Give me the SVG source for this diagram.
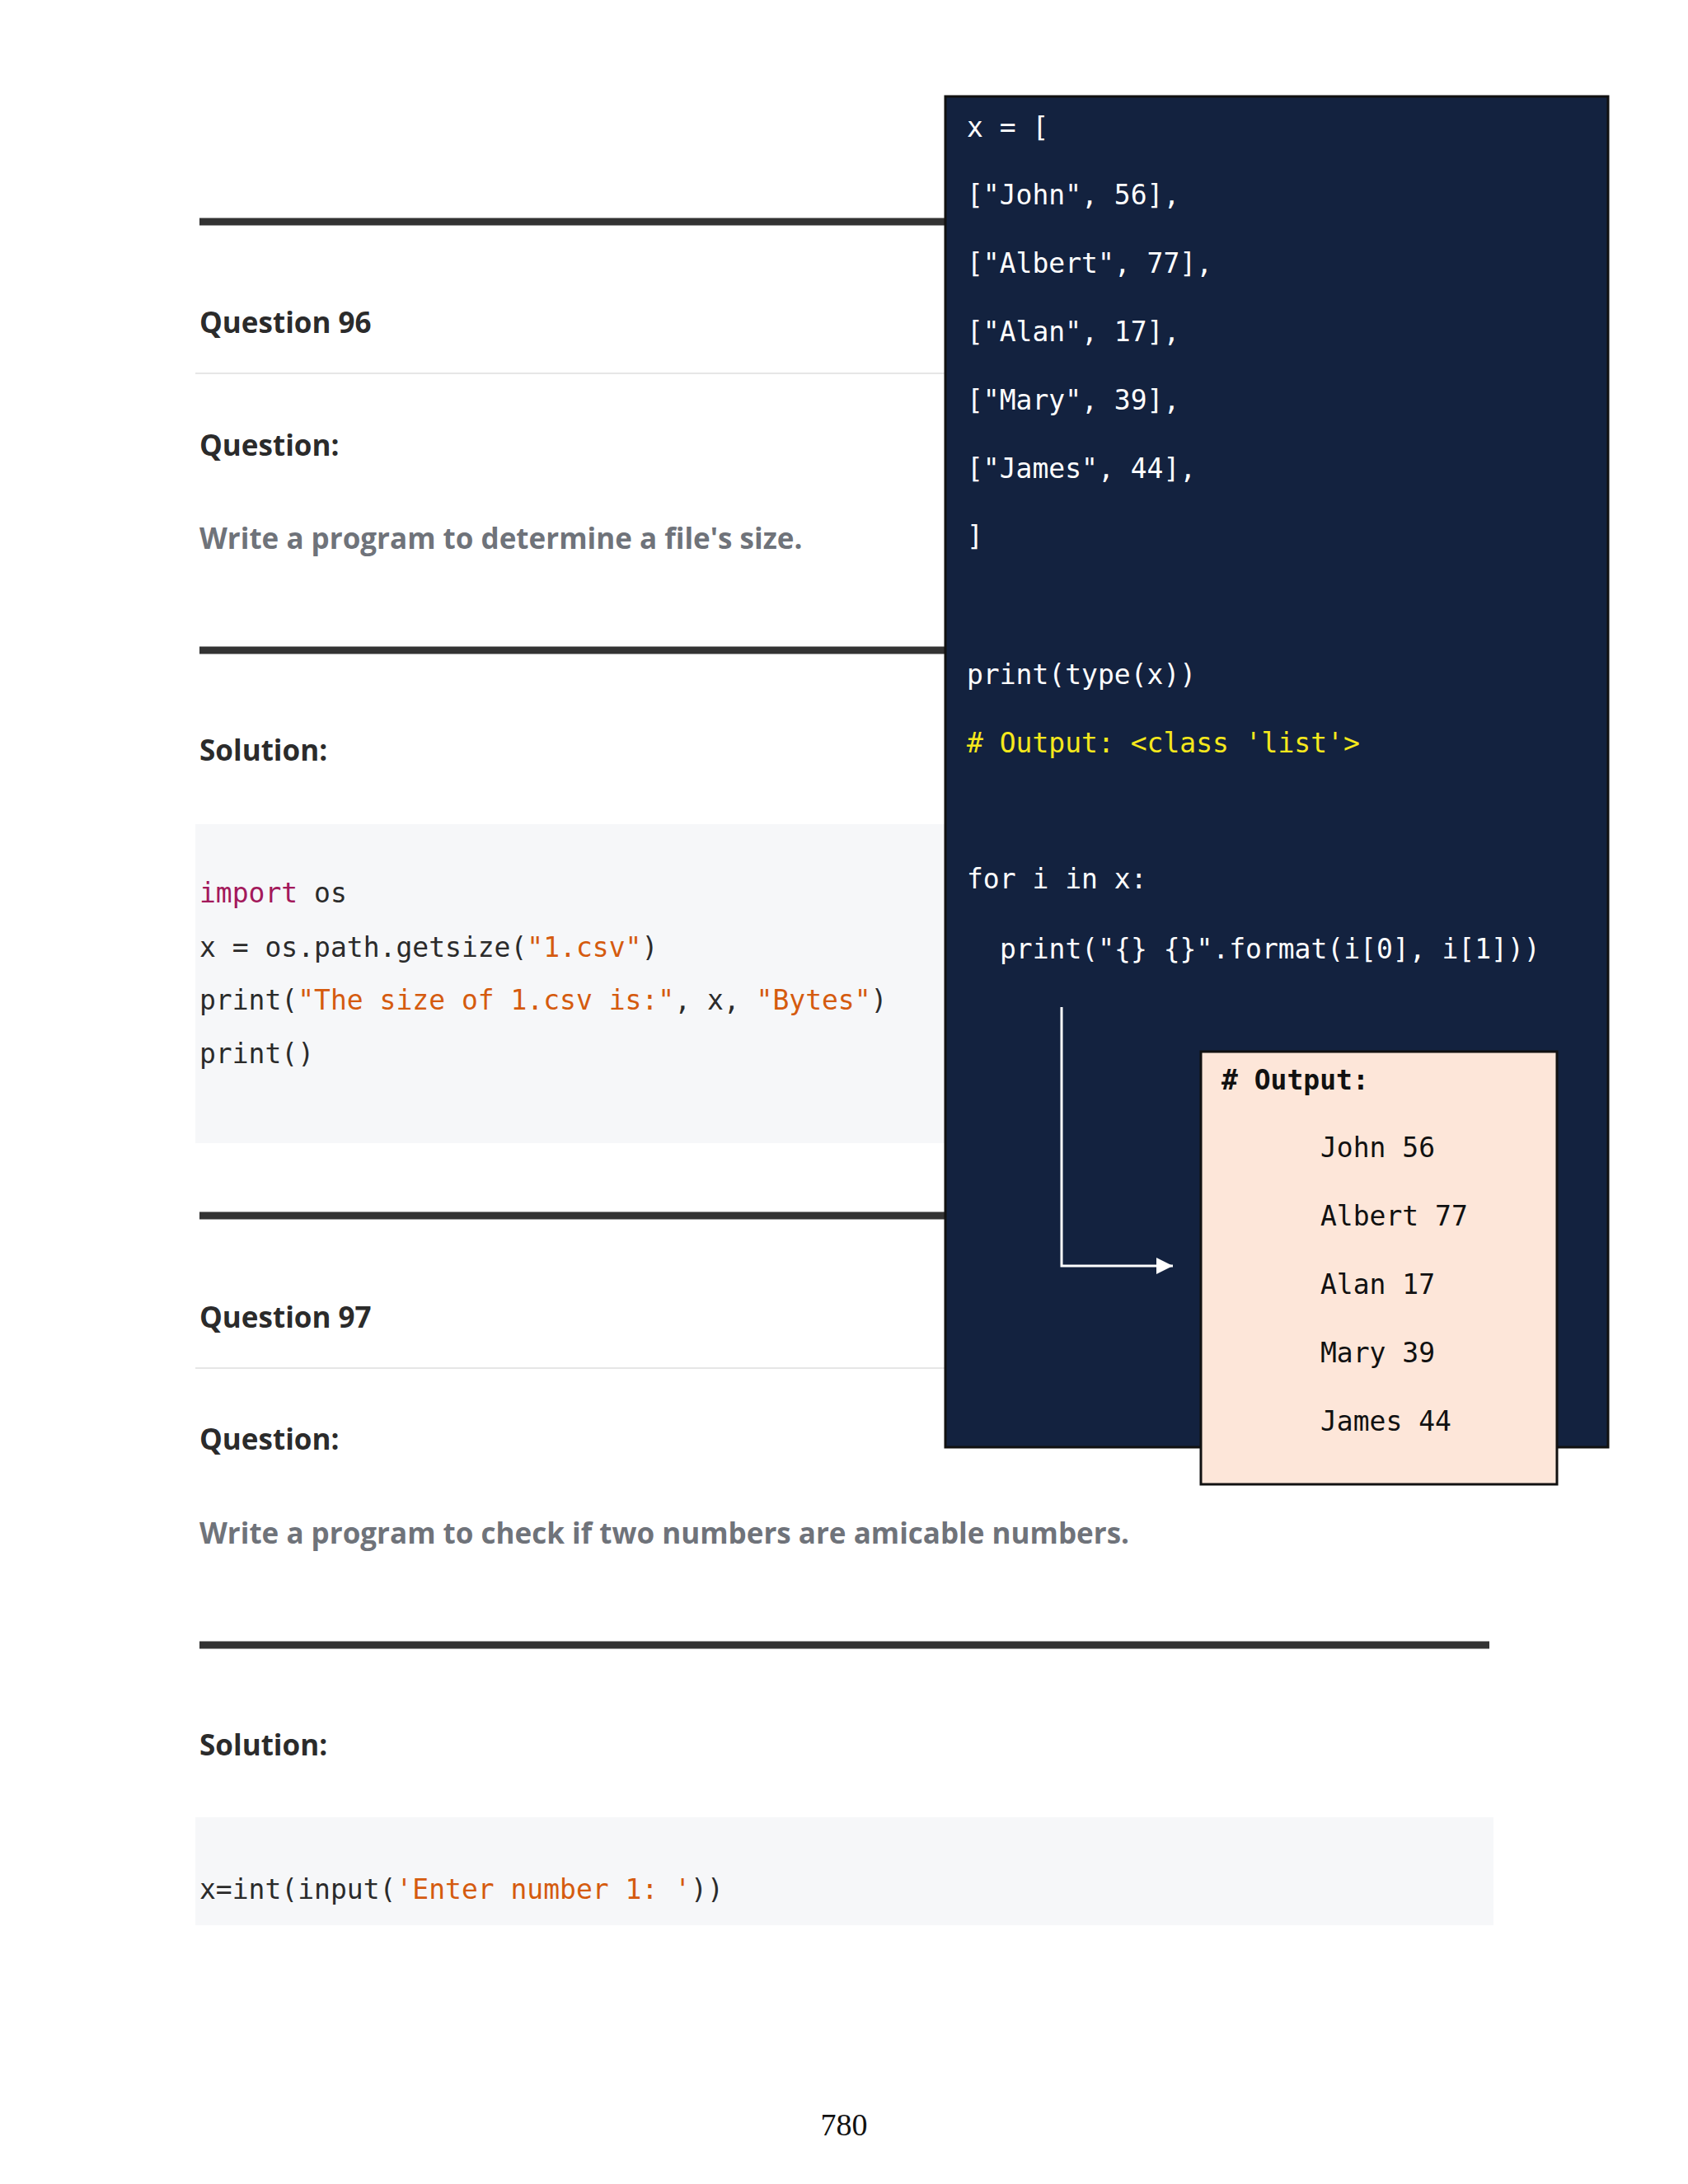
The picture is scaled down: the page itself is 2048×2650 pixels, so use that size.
<svg xmlns="http://www.w3.org/2000/svg" width="2048" height="2650" viewBox="0 0 2048 2650">
<style>
.h{font-family:"Open Sans","Noto Sans",sans-serif;font-weight:bold;font-size:35px;fill:#2b2b2b}
.g{font-family:"Open Sans","Noto Sans",sans-serif;font-weight:bold;font-size:35px;fill:#6f737a}
.m{font-family:"DejaVu Sans Mono","Liberation Mono",monospace;font-size:33px;fill:#2b2b2b}
.w{font-family:"DejaVu Sans Mono","Liberation Mono",monospace;font-size:33px;fill:#ffffff}
.o{font-family:"DejaVu Sans Mono","Liberation Mono",monospace;font-size:33px;fill:#111}
.s{fill:#d55b0f}.k{fill:#a3195b}
.thick{stroke:#333;stroke-width:9}
.thin{stroke:#e6e6e6;stroke-width:2}
</style>
<defs><marker id="ah" markerWidth="10" markerHeight="10" refX="9" refY="5" orient="auto" markerUnits="userSpaceOnUse"><path d="M0,0 L20,5 L0,10z" fill="#fff"/></marker>
<marker id="a2" viewBox="0 0 10 10" refX="10" refY="5" markerWidth="20" markerHeight="20" orient="auto" markerUnits="userSpaceOnUse"><path d="M0,0L10,5L0,10z" fill="#fff"/></marker></defs>
<rect width="2048" height="2650" fill="#fff"/>
<g id="page">
<line class="thick" x1="242" y1="269" x2="1147" y2="269"/>
<line class="thin" x1="237" y1="453" x2="1147" y2="453"/>
<text class="h" x="242" y="404">Question 96</text>
<text class="h" x="242" y="553">Question:</text>
<text class="g" x="242" y="666">Write a program to determine a file's size.</text>
<line class="thick" x1="242" y1="789" x2="1147" y2="789"/>
<text class="h" x="242" y="923">Solution:</text>
<rect x="237" y="1000" width="910" height="387" fill="#f6f7f9"/>
<text class="m" x="242" y="1095"><tspan class="k">import</tspan> os</text>
<text class="m" x="242" y="1161">x = os.path.getsize(<tspan class="s">"1.csv"</tspan>)</text>
<text class="m" x="242" y="1225">print(<tspan class="s">"The size of 1.csv is:"</tspan>, x, <tspan class="s">"Bytes"</tspan>)</text>
<text class="m" x="242" y="1290">print()</text>
<line class="thick" x1="242" y1="1475" x2="1147" y2="1475"/>
<text class="h" x="242" y="1611">Question 97</text>
<line class="thin" x1="237" y1="1660" x2="1147" y2="1660"/>
<text class="h" x="242" y="1759">Question:</text>
<text class="g" x="242" y="1873">Write a program to check if two numbers are amicable numbers.</text>
<line class="thick" x1="242" y1="1996" x2="1807" y2="1996"/>
<text class="h" x="242" y="2130">Solution:</text>
<rect x="237" y="2205" width="1575" height="131" fill="#f6f7f9"/>
<text class="m" x="242" y="2304">x=int(input(<tspan class="s">'Enter number 1: '</tspan>))</text>
<text x="1024" y="2591" text-anchor="middle" font-family="Liberation Serif,serif" font-size="38" fill="#111">780</text>
</g>
<g id="code-panel">
<rect x="1147" y="117" width="804" height="1639" fill="#13223f" stroke="#111" stroke-width="3"/>
<text class="w" x="1173" y="166">x = [</text>
<text class="w" x="1173" y="248">["John", 56],</text>
<text class="w" x="1173" y="331">["Albert", 77],</text>
<text class="w" x="1173" y="414">["Alan", 17],</text>
<text class="w" x="1173" y="497">["Mary", 39],</text>
<text class="w" x="1173" y="580">["James", 44],</text>
<text class="w" x="1173" y="662">]</text>
<text class="w" x="1173" y="830">print(type(x))</text>
<text class="w" x="1173" y="913" fill="#ffe600" style="fill:#f5e81c"># Output: &lt;class 'list'&gt;</text>
<text class="w" x="1173" y="1078">for i in x:</text>
<text class="w" x="1213" y="1163">print("{} {}".format(i[0], i[1]))</text>
</g>
<g id="output-box">
<rect x="1457" y="1276" width="432" height="525" fill="#fde6d9" stroke="#111" stroke-width="3"/>
<text class="o" x="1482" y="1322" font-weight="bold"># Output:</text>
<text class="o" x="1602" y="1404">John 56</text>
<text class="o" x="1602" y="1487">Albert 77</text>
<text class="o" x="1602" y="1570">Alan 17</text>
<text class="o" x="1602" y="1653">Mary 39</text>
<text class="o" x="1602" y="1736">James 44</text>
</g>
<g id="connectors">
<path d="M1288,1222 L1288,1536 L1423,1536" fill="none" stroke="#fff" stroke-width="3" marker-end="url(#a2)"/>
</g>
</svg>
